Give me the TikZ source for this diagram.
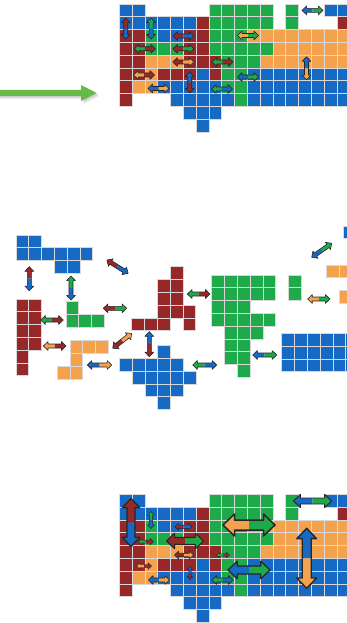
\documentclass[tikz,border=0pt]{standalone}
\usepackage{tikz}

\definecolor{tileblue}{RGB}{22,106,196}
\definecolor{tilegreen}{RGB}{30,170,75}
\definecolor{tilered}{RGB}{150,40,42}
\definecolor{tileorange}{RGB}{245,162,78}
\definecolor{pointgreen}{RGB}{102,186,72}

% cells of each piece, column/row in the packed grid
\newcommand{\cellsBlueA}{0/0,1/0,0/1,1/1,2/1,3/1,4/1,5/1,3/2,4/2}
\newcommand{\cellsRedA}{0/2,1/2,0/3,1/3,0/4,1/4,0/5,1/5,0/6,0/7}
\newcommand{\cellsGreenA}{2/2,2/3,3/3,4/3}
\newcommand{\cellsOrangeA}{2/4,3/4,4/4,2/5,1/6,2/6}
\newcommand{\cellsRedB}{6/1,5/2,6/2,5/3,6/3,5/4,6/4,7/4,3/5,4/5,5/5,7/5}
\newcommand{\cellsBlueB}{6/5,3/6,4/6,5/6,6/6,7/6,4/7,5/7,6/7,7/7,8/7,5/8,6/8,7/8,6/9}
\newcommand{\cellsGreenB}{7/0,8/0,9/0,10/0,11/0,7/1,8/1,9/1,10/1,11/1,7/2,8/2,9/2,
  7/3,8/3,9/3,10/3,11/3,8/4,9/4,10/4,8/5,9/5,8/6,9/6,9/7}
\newcommand{\cellsGreenC}{13/0,13/1}
\newcommand{\cellsOrangeB}{10/2,11/2,12/2,13/2,14/2,15/2,16/2,17/2,12/3,13/3,14/3,15/3,
  16/3,17/3,11/4,12/4,13/4,14/4,15/4,16/4,17/4}
\newcommand{\cellsBlueC}{10/5,11/5,12/5,13/5,14/5,15/5,16/5,17/5,10/6,11/6,12/6,13/6,
  14/6,15/6,16/6,17/6,10/7,11/7,12/7,13/7,14/7,15/7,16/7,17/7}
\newcommand{\cellsBlueD}{16/0,17/0}
\newcommand{\cellsRedC}{17/1}

\newcommand{\piece}[3]{% colour, origin, cells
  \begin{scope}[shift={#2}]
    \foreach \cx/\cy in #3 {\filldraw[tile, fill=#1] (12.8*\cx,12.8*\cy) rectangle ++(12.8,12.8);}
  \end{scope}}

\newcommand{\packedgrid}[1]{%
  \piece{tileblue}{#1}{\cellsBlueA}
  \piece{tilered}{#1}{\cellsRedA}
  \piece{tilegreen}{#1}{\cellsGreenA}
  \piece{tileorange}{#1}{\cellsOrangeA}
  \piece{tilered}{#1}{\cellsRedB}
  \piece{tileblue}{#1}{\cellsBlueB}
  \piece{tilegreen}{#1}{\cellsGreenB}
  \piece{tilegreen}{#1}{\cellsGreenC}
  \piece{tileorange}{#1}{\cellsOrangeB}
  \piece{tileblue}{#1}{\cellsBlueC}
  \piece{tileblue}{#1}{\cellsBlueD}
  \piece{tilered}{#1}{\cellsRedC}}

\newcommand{\dblarrow}[6]{% centre, angle, length, shaft, colour A, colour B
  \begin{scope}[shift={#1}, rotate=#2]
    \pgfmathsetmacro{\dbHalf}{#3/2}
    \pgfmathsetmacro{\dbShaft}{#4/2}
    \pgfmathsetmacro{\dbHead}{1.1*#4}
    \pgfmathsetmacro{\dbNeck}{#3/2-1.15*#4}
    \fill[#5] (0,\dbShaft) -- (-\dbNeck,\dbShaft) -- (-\dbNeck,\dbHead) -- (-\dbHalf,0)
      -- (-\dbNeck,-\dbHead) -- (-\dbNeck,-\dbShaft) -- (0,-\dbShaft) -- cycle;
    \fill[#6] (0,\dbShaft) -- (\dbNeck,\dbShaft) -- (\dbNeck,\dbHead) -- (\dbHalf,0)
      -- (\dbNeck,-\dbHead) -- (\dbNeck,-\dbShaft) -- (0,-\dbShaft) -- cycle;
    \draw[arrowline, line width=0.15*#4] (-\dbNeck,\dbShaft) -- (\dbNeck,\dbShaft) -- (\dbNeck,\dbHead)
      -- (\dbHalf,0) -- (\dbNeck,-\dbHead) -- (\dbNeck,-\dbShaft) -- (-\dbNeck,-\dbShaft)
      -- (-\dbNeck,-\dbHead) -- (-\dbHalf,0) -- (-\dbNeck,\dbHead) -- cycle;
  \end{scope}}

\begin{document}
\begin{tikzpicture}[x=1pt, y=-1pt,
  tile/.style={draw=white!85!black, line width=0.7pt},
  arrowline/.style={draw=black!85, line join=round},
  pointer/.style={fill=pointgreen}
]
\useasboundingbox (0,0) rectangle (347,623);
\clip (0,0) rectangle (347,623);

% pointer
\foreach \sh in {3,2,1}
  \fill[black, opacity=0.07] (0,90+\sh) -- (81+\sh,90+\sh) -- (81+\sh,85+\sh) -- (96.7+\sh,93+\sh)
    -- (81+\sh,101+\sh) -- (81+\sh,96+\sh) -- (0,96+\sh) -- cycle;
\fill[pointer] (0,90) -- (81,90) -- (81,85) -- (96.7,93) -- (81,101) -- (81,96) -- (0,96) -- cycle;

% top: packed grid
\packedgrid{(119.3,4)}
\dblarrow{(125.7,28.6)}{-90}{21}{4}{tilered}{tileblue}
\dblarrow{(151.1,28.6)}{-90}{21}{4}{tilegreen}{tileblue}
\dblarrow{(183.3,36)}{0}{21}{4}{tilered}{tileblue}
\dblarrow{(144.9,48.8)}{0}{21}{4}{tilegreen}{tilered}
\dblarrow{(183.3,48.8)}{0}{21}{4}{tilered}{tilegreen}
\dblarrow{(248,35.5)}{0}{21}{4}{tileorange}{tilegreen}
\dblarrow{(183.3,62)}{0}{21}{4}{tilered}{tileorange}
\dblarrow{(222.5,62)}{0}{21}{4}{tilegreen}{tilered}
\dblarrow{(144,75)}{0}{21}{4}{tileorange}{tilered}
\dblarrow{(189.7,82.5)}{-90}{21}{4}{tileblue}{tilered}
\dblarrow{(158.5,88.5)}{0}{21}{4}{tileblue}{tileorange}
\dblarrow{(248,77)}{0}{21}{4}{tileblue}{tilegreen}
\dblarrow{(222,89)}{0}{21}{4}{tilegreen}{tileblue}
\dblarrow{(306.5,68.3)}{-90}{23}{4}{tileblue}{tileorange}
\dblarrow{(312.5,10.4)}{0}{21}{4}{tileblue}{tilegreen}

% middle: pieces pulled apart
\piece{tileblue}{(16,235)}{\cellsBlueA}
\piece{tilered}{(16,273.4)}{\cellsRedA}
\piece{tilegreen}{(40.4,276.1)}{\cellsGreenA}
\piece{tileorange}{(44.4,289.5)}{\cellsOrangeA}
\piece{tilered}{(93.3,253.9)}{\cellsRedB}
\piece{tileblue}{(80.9,281.5)}{\cellsBlueB}
\piece{tilegreen}{(122.1,275)}{\cellsGreenB}
\piece{tilegreen}{(122.1,275)}{\cellsGreenC}
\piece{tileorange}{(198.7,239.4)}{\cellsOrangeB}
\piece{tileblue}{(153.7,269.3)}{\cellsBlueC}
\piece{tileblue}{(138.5,226)}{\cellsBlueD}
\dblarrow{(29.3,278.7)}{-90}{24}{4}{tilered}{tileblue}
\dblarrow{(71,288)}{-90}{24}{4}{tilegreen}{tileblue}
\dblarrow{(117.5,266.7)}{-32}{25}{4}{tilered}{tileblue}
\dblarrow{(115,308.3)}{0}{23.4}{4}{tilered}{tilegreen}
\dblarrow{(52,320)}{0}{22.6}{4}{tilegreen}{tilered}
\dblarrow{(54.7,346)}{0}{22.7}{4}{tileorange}{tilered}
\dblarrow{(122.2,340.8)}{38}{24}{4}{tilered}{tileorange}
\dblarrow{(149.3,344.2)}{-90}{25}{4}{tileblue}{tilered}
\dblarrow{(99.5,365)}{0}{24.4}{4}{tileblue}{tileorange}
\dblarrow{(198.7,294)}{0}{22.7}{4}{tilegreen}{tilered}
\dblarrow{(204.7,365)}{0}{24}{4}{tilegreen}{tileblue}
\dblarrow{(264.7,355)}{0}{24}{4}{tileblue}{tilegreen}
\dblarrow{(318.8,299)}{0}{22.3}{4}{tileorange}{tilegreen}
\dblarrow{(321.7,250.3)}{35}{24.4}{4}{tileblue}{tilegreen}

% bottom: packed grid, arrows sized by weight
\packedgrid{(119.3,494.3)}
\dblarrow{(131,522.5)}{-90}{48}{8}{tilered}{tileblue}
\dblarrow{(151,520)}{-90}{17}{3.2}{tilegreen}{tileblue}
\dblarrow{(183.3,526.7)}{0}{17}{3.2}{tilered}{tileblue}
\dblarrow{(146,541.7)}{0}{15}{3}{tilegreen}{tilered}
\dblarrow{(185,541)}{0}{37}{7}{tilered}{tilegreen}
\dblarrow{(249,525)}{0}{52}{10}{tileorange}{tilegreen}
\dblarrow{(184,555)}{0}{19}{3.5}{tilered}{tileorange}
\dblarrow{(223,555)}{0}{13}{2.5}{tilegreen}{tilered}
\dblarrow{(144,566)}{0}{15}{3}{tileorange}{tilered}
\dblarrow{(190,573)}{-90}{13}{2.5}{tileblue}{tilered}
\dblarrow{(159,580)}{0}{21}{4}{tileblue}{tileorange}
\dblarrow{(249,570)}{0}{42}{8}{tileblue}{tilegreen}
\dblarrow{(222.5,580)}{0}{21}{4}{tilegreen}{tileblue}
\dblarrow{(306.7,558.3)}{-90}{60}{9}{tileblue}{tileorange}
\dblarrow{(312.5,501)}{0}{38}{6}{tileblue}{tilegreen}
\end{tikzpicture}
\end{document}
